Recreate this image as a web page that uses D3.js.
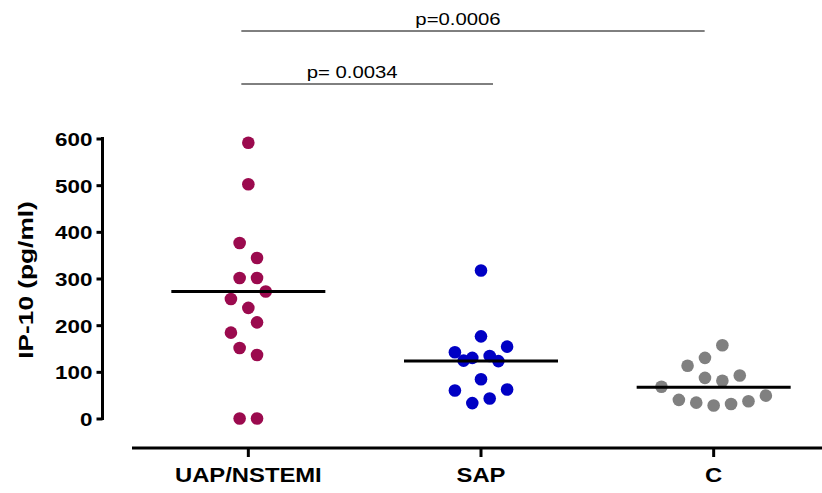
<!DOCTYPE html>
<html>
<head>
<meta charset="utf-8">
<script src="https://cdn.jsdelivr.net/npm/d3@7"></script>
<style>
  body { margin: 0; background: #fff; }
  svg { display: block; }
</style>
</head>
<body>
<div id="chart"></div>
<script>
// groups on the x axis
const categories = ['UAP/NSTEMI', 'SAP', 'C'];

// IP-10 values (pg/ml), with the scatter column of each dot
const uapValues = [591, 502, 376, 344, 301, 301, 272, 256, 237, 206, 184, 151, 136, 0, 0];
const uapSlots  = [0, 0, -1, 1, -1, 1, 2, -2, 0, 1, -2, -1, 1, -1, 1];

const sapValues = [317, 176, 154, 142, 134, 130, 124, 123, 84, 62, 60, 43, 33];
const sapSlots  = [0, 0, 3, -3, 1, -1, -2, 2, 0, 3, -3, 1, -1];

const cValues = [157, 130, 113, 92, 87, 81, 68, 49, 40, 37, 34, 31, 28];
const cSlots  = [1, -1, -3, 3, -1, 1, -6, 6, -4, 4, -2, 2, 0];

const medians = [272, 123, 67];
const yTicks = [0, 100, 200, 300, 400, 500, 600];
const pLabels = ['p=0.0006', 'p= 0.0034'];

const colors = ['#9b0a4e', '#0000c4', '#808080'];

const width = 822;
const height = 493;

const svg = d3.select('#chart')
  .append('svg')
  .attr('width', width)
  .attr('height', height);

const x = d3.scaleBand()
  .domain(categories)
  .range([132, 830])
  .padding(0);

const y = d3.scaleLinear()
  .domain([0, 600])
  .range([418.5, 138.5]);

const slot = d3.scaleLinear().domain([-1, 1]).range([-8.7, 8.7]);

const cx = c => x(c) + x.bandwidth() / 2;

// Prism style text is wider than plain Arial
function stretch(sel, k) {
  sel.each(function() {
    const w = this.getComputedTextLength();
    d3.select(this)
      .attr('textLength', w * k)
      .attr('lengthAdjust', 'spacingAndGlyphs');
  });
}

// y axis
const yAxis = svg.append('g')
  .attr('transform', 'translate(102.5,0)')
  .call(d3.axisLeft(y).tickValues(yTicks).tickSize(6).tickSizeOuter(0));
yAxis.select('.domain')
  .attr('stroke', '#000')
  .attr('stroke-width', 3)
  .attr('d', `M0,${y(600) - 1.5}V${y(0) + 1.5}`);
yAxis.selectAll('.tick line').attr('stroke', '#000').attr('stroke-width', 3);
yAxis.selectAll('.tick text')
  .attr('x', -10)
  .attr('dy', '0.36em')
  .attr('font-family', 'Liberation Sans, Arial, sans-serif')
  .attr('font-weight', 'bold')
  .attr('font-size', '19px')
  .attr('fill', '#000')
  .call(stretch, 1.18);

// x axis
const xAxis = svg.append('g')
  .attr('transform', 'translate(0,448)')
  .call(d3.axisBottom(x).tickSize(9).tickSizeOuter(0));
xAxis.select('.domain')
  .attr('stroke', '#000')
  .attr('stroke-width', 3)
  .attr('d', 'M132,0H822');
xAxis.selectAll('.tick line').attr('stroke', '#000').attr('stroke-width', 3);
xAxis.selectAll('.tick text')
  .attr('y', 34)
  .attr('dy', 0)
  .attr('font-family', 'Liberation Sans, Arial, sans-serif')
  .attr('font-weight', 'bold')
  .attr('font-size', '20px')
  .attr('fill', '#000')
  .call(stretch, 1.19);

// y title
svg.append('text')
  .attr('transform', 'translate(33,280) rotate(-90)')
  .attr('text-anchor', 'middle')
  .attr('font-family', 'Liberation Sans, Arial, sans-serif')
  .attr('font-weight', 'bold')
  .attr('font-size', '21px')
  .text('IP-10 (pg/ml)')
  .call(stretch, 1.25);

// dots
const groups = [
  { values: uapValues, slots: uapSlots },
  { values: sapValues, slots: sapSlots },
  { values: cValues, slots: cSlots },
];

groups.forEach((g, i) => {
  const pts = g.values.map((v, j) => ({ v, s: g.slots[j] }));
  svg.append('g')
    .selectAll('circle')
    .data(pts)
    .enter()
    .append('circle')
    .attr('cx', d => cx(categories[i]) + slot(d.s))
    .attr('cy', d => y(d.v))
    .attr('r', 6.3)
    .attr('fill', colors[i]);
});

// median lines
svg.append('g')
  .selectAll('line')
  .data(medians)
  .enter()
  .append('line')
  .attr('x1', (d, i) => cx(categories[i]) - 77)
  .attr('x2', (d, i) => cx(categories[i]) + 77)
  .attr('y1', d => y(d))
  .attr('y2', d => y(d))
  .attr('stroke', '#000')
  .attr('stroke-width', 3);

// significance brackets
const brackets = [
  { from: 'UAP/NSTEMI', to: 'C', y: 31, x1off: -7, x2off: -9, label: pLabels[0] },
  { from: 'UAP/NSTEMI', to: 'SAP', y: 84, x1off: -7, x2off: 12, label: pLabels[1] },
];

brackets.forEach(b => {
  const x1 = cx(b.from) + b.x1off;
  const x2 = cx(b.to) + b.x2off;
  svg.append('line')
    .attr('x1', x1).attr('x2', x2)
    .attr('y1', b.y).attr('y2', b.y)
    .attr('stroke', '#000')
    .attr('stroke-width', 1);
  svg.append('text')
    .attr('x', (x1 + x2) / 2 - 15)
    .attr('y', b.y - 6.5)
    .attr('text-anchor', 'middle')
    .attr('font-family', 'Liberation Sans, Arial, sans-serif')
    .attr('font-size', '16px')
    .text(b.label)
    .call(stretch, 1.27);
});
</script>
</body>
</html>
